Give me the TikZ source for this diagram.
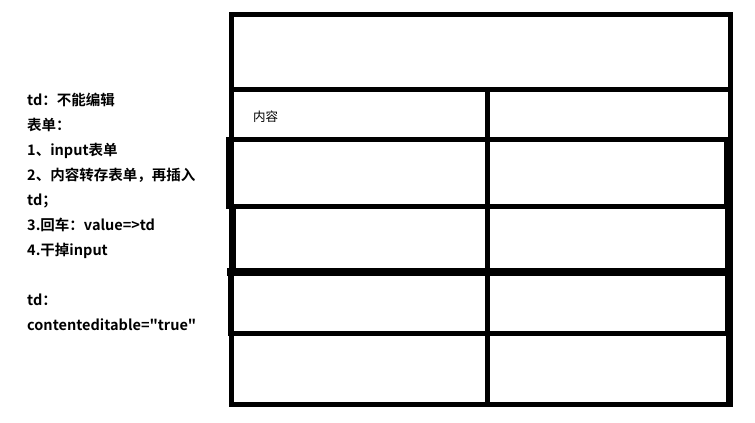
\documentclass[tikz,border=0pt]{standalone}
\usepackage{fontspec}
\setmainfont{Noto Sans CJK SC}[Ligatures=TeXOff,BoldFont={* Bold}]
\begin{document}
\begin{tikzpicture}[x=1pt,y=-1pt,
  note/.style={anchor=base west,inner sep=0pt,font=\fontsize{14.5}{17}\selectfont\bfseries},
  cell/.style={anchor=base west,inner sep=0pt,font=\fontsize{12.5}{14}\selectfont},
  rule/.style={line width=5pt,line cap=rect},
  fatrule/.style={line width=7.5pt,line cap=rect}]
\useasboundingbox (0,0) rectangle (755,423);
% outer frame
\draw[rule] (231.5,14.5) rectangle (730.5,404.5);
\draw[rule] (231.5,89.5) -- (730.5,89.5);
% row rectangles drawn over the frame
\draw[rule] (228.5,139.5) rectangle (726.5,206);
\draw[rule] (233.5,206.5) -- (233.5,272);
\draw[rule] (727.5,206.5) -- (727.5,272);
\draw[fatrule] (231,272) -- (727,272);
\draw[rule] (230.5,272) -- (230.5,333);
\draw[rule] (727.5,272) -- (727.5,333);
\draw[rule] (231,333) -- (728,333);
\draw[rule] (728,333) -- (728,404);
% middle divider
\draw[rule] (487.5,92) -- (487.5,402);
% cell label
\node[cell] (content) at (253,121) {内容};
% notes
\node[note] (n1) at (27,105) {td：不能编辑};
\node[note] (n2) at (27,130) {表单：};
\node[note] (n3) at (27,155) {1、input表单};
\node[note] (n4) at (27,180) {2、内容转存表单，再插入};
\node[note] (n5) at (27,205) {td；};
\node[note] (n6) at (27,230) {3.回车：value=>td};
\node[note] (n7) at (27,255) {4.干掉input};
\node[note] (n8) at (27,305) {td：};
\node[note] (n9) at (27,330) {contenteditable="true"};
\end{tikzpicture}
\end{document}
